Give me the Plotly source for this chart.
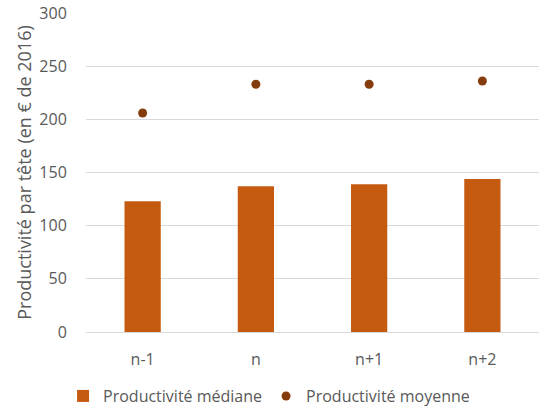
import plotly.graph_objects as go

categories = ["n-1", "n", "n+1", "n+2"]
mediane = [123, 137, 139, 144]
moyenne = [206, 233, 233, 236]
y_ticks = [0, 50, 100, 150, 200, 250, 300]

FONT = "Open Sans"
GREY = "#595959"

fig = go.Figure()
fig.add_trace(go.Bar(
    x=categories, y=mediane, name="Productivité médiane",
    marker=dict(color="#c55a11", line=dict(width=0)), width=0.32,
))
fig.add_trace(go.Scatter(
    x=categories, y=moyenne, name="Productivité moyenne", mode="markers",
    marker=dict(color="#843c0c", size=9),
))

fig.update_layout(
    width=539, height=410,
    margin=dict(l=86, r=0, t=13, b=78, autoexpand=False),
    plot_bgcolor="white", paper_bgcolor="white",
    font=dict(family=FONT, size=16, color=GREY),
    showlegend=True,
    legend=dict(
        orientation="h", xref="container", yref="container",
        x=0.117, xanchor="left", y=0.034, yanchor="middle",
        font=dict(family=FONT, size=16, color=GREY),
        itemwidth=30, traceorder="normal",
        entrywidth=158, entrywidthmode="pixels",
    ),
)
fig.update_xaxes(
    showgrid=False, showline=False, zeroline=False, automargin=False,
    ticks="outside", ticklen=13, tickcolor="rgba(0,0,0,0)",
    tickfont=dict(family=FONT, size=16, color=GREY),
)
fig.update_yaxes(
    range=[0, 300], tickvals=y_ticks, showgrid=True, gridcolor="#d9d9d9", gridwidth=1,
    zeroline=True, zerolinecolor="#d9d9d9", zerolinewidth=1, showline=False,
    automargin=False,
    ticks="outside", ticklen=15, tickcolor="rgba(0,0,0,0)",
    tickfont=dict(family=FONT, size=16, color=GREY),
    title=dict(text="Productivité par tête (en € de 2016)", standoff=3,
               font=dict(family=FONT, size=18, color=GREY)),
)

fig.write_html("out.html")
